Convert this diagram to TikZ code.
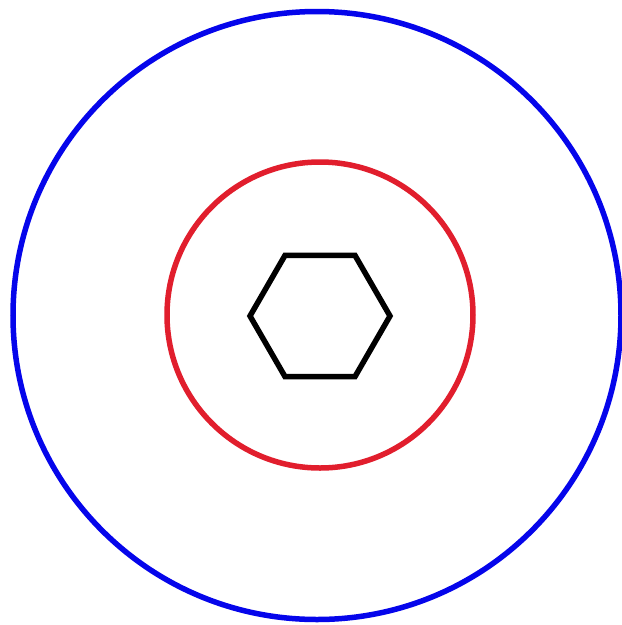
\documentclass[tikz,border=0pt]{standalone}
\usetikzlibrary{calc}
\definecolor{ringblue}{RGB}{5,5,235}
\definecolor{ringred}{RGB}{225,30,45}
\begin{document}
\begin{tikzpicture}[x=1pt,y=-1pt,
  ring/.style={line width=5.5pt},
  hexline/.style={line width=5.5pt,line join=miter}]
\useasboundingbox (0,0) rectangle (622,625);
\fill[white] (0,0) rectangle (622,625);
\coordinate (c) at (317,315.5);
\coordinate (h) at (320,316);
\draw[ring,ringblue] (c) circle[radius=304];
\draw[ring,ringred] (320,315) circle[radius=153];
\draw[hexline,black] ($(h)+(0:70)$) \foreach \a in {60,120,...,300} { -- ($(h)+(\a:70)$) } -- cycle;
\end{tikzpicture}
\end{document}
